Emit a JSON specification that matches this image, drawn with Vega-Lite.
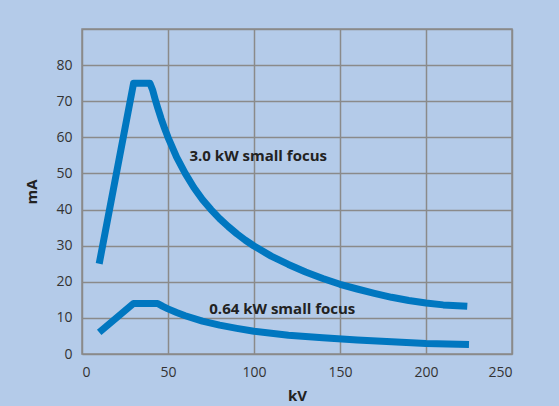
{
  "$schema": "https://vega.github.io/schema/vega-lite/v6.json",
  "autosize": "none",
  "width": 430,
  "height": 325,
  "padding": {"left": 82, "top": 29, "right": 47, "bottom": 52},
  "background": "#b4cbe9",
  "config": {
    "view": {"stroke": "#8a8a8a", "strokeWidth": 1.5, "fill": "#b4cbe9"},
    "font": "Open Sans",
    "axis": {"labelOverlap": false, "grid": true, "gridColor": "#8a8a8a", "gridWidth": 1.5, "domain": false, "ticks": false,
      "labelFontSize": 14, "labelColor": "#333333", "titleFontSize": 15, "titleFontWeight": "bold", "titleColor": "#222222"}
  },
  "encoding": {
    "x": {"field": "kV", "type": "quantitative", "scale": {"domain": [0, 250], "nice": false},
      "axis": {"values": [0, 50, 100, 150, 200, 250], "title": "kV", "labelPadding": 11, "titlePadding": 9}},
    "y": {"field": "mA", "type": "quantitative", "scale": {"domain": [0, 90], "nice": false},
      "axis": {"values": [0, 10, 20, 30, 40, 50, 60, 70, 80, 90], "labelExpr": "datum.value == 90 ? '' : datum.label", "title": "mA", "labelPadding": 10, "titlePadding": 16}}
  },
  "layer": [
    {
      "data": {"values": [
        {"kV": 10, "mA": 25, "s": "3.0"}, {"kV": 30, "mA": 75, "s": "3.0"}, {"kV": 39.5, "mA": 75, "s": "3.0"},
        {"kV": 41, "mA": 73.2, "s": "3.0"}, {"kV": 42.5, "mA": 70.6, "s": "3.0"}, {"kV": 44, "mA": 68.2, "s": "3.0"},
        {"kV": 46, "mA": 65.2, "s": "3.0"}, {"kV": 48, "mA": 62.5, "s": "3.0"}, {"kV": 50, "mA": 60, "s": "3.0"},
        {"kV": 55, "mA": 54.5, "s": "3.0"}, {"kV": 60, "mA": 50, "s": "3.0"}, {"kV": 65, "mA": 46.1, "s": "3.0"},
        {"kV": 70, "mA": 42.8, "s": "3.0"}, {"kV": 75, "mA": 40, "s": "3.0"}, {"kV": 80, "mA": 37.5, "s": "3.0"},
        {"kV": 85, "mA": 35.3, "s": "3.0"},
        {"kV": 90, "mA": 33.3, "s": "3.0"}, {"kV": 95, "mA": 31.5, "s": "3.0"}, {"kV": 100, "mA": 29.9, "s": "3.0"}, {"kV": 110, "mA": 27.1, "s": "3.0"},
        {"kV": 120, "mA": 24.8, "s": "3.0"}, {"kV": 130, "mA": 22.7, "s": "3.0"}, {"kV": 140, "mA": 20.9, "s": "3.0"},
        {"kV": 150, "mA": 19.3, "s": "3.0"}, {"kV": 160, "mA": 18.0, "s": "3.0"}, {"kV": 170, "mA": 16.8, "s": "3.0"},
        {"kV": 180, "mA": 15.7, "s": "3.0"}, {"kV": 190, "mA": 14.8, "s": "3.0"}, {"kV": 200, "mA": 14.1, "s": "3.0"},
        {"kV": 210, "mA": 13.6, "s": "3.0"}, {"kV": 224, "mA": 13.2, "s": "3.0"},
        {"kV": 10, "mA": 6, "s": "0.64"}, {"kV": 30, "mA": 14, "s": "0.64"}, {"kV": 44, "mA": 14, "s": "0.64"},
        {"kV": 47, "mA": 13.2, "s": "0.64"},
        {"kV": 50, "mA": 12.5, "s": "0.64"}, {"kV": 55, "mA": 11.5, "s": "0.64"}, {"kV": 60, "mA": 10.6, "s": "0.64"}, {"kV": 70, "mA": 9.1, "s": "0.64"},
        {"kV": 80, "mA": 8.0, "s": "0.64"}, {"kV": 90, "mA": 7.1, "s": "0.64"}, {"kV": 100, "mA": 6.3, "s": "0.64"},
        {"kV": 120, "mA": 5.2, "s": "0.64"}, {"kV": 140, "mA": 4.5, "s": "0.64"}, {"kV": 160, "mA": 3.9, "s": "0.64"},
        {"kV": 180, "mA": 3.4, "s": "0.64"}, {"kV": 200, "mA": 2.9, "s": "0.64"}, {"kV": 225, "mA": 2.6, "s": "0.64"}
      ]},
      "mark": {"type": "line", "strokeWidth": 7, "strokeCap": "butt", "strokeJoin": "round", "color": "#0077c0"},
      "encoding": {
        "detail": {"field": "s"}
      }
    },
    {
      "data": {"values": [
        {"kV": 62.5, "mA": 54.9, "t": "3.0 kW small focus"},
        {"kV": 74, "mA": 12.5, "t": "0.64 kW small focus"}
      ]},
      "mark": {"type": "text", "align": "left", "baseline": "middle", "fontWeight": "bold", "fontSize": 15, "color": "#222222"},
      "encoding": {
        "text": {"field": "t"}
      }
    }
  ]
}
